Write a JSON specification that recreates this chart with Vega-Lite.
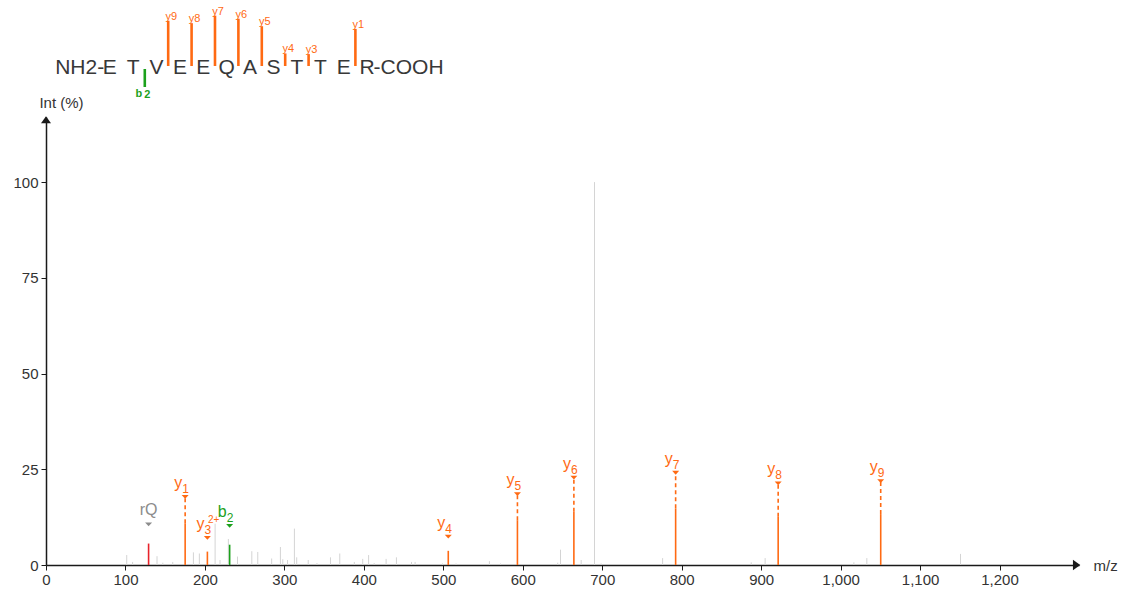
{
  "$schema": "https://vega.github.io/schema/vega-lite/v6.json",
  "background": "white",
  "padding": {"left": 12, "top": 0, "right": 5, "bottom": 5},
  "bounds": "flush",
  "spacing": 17,
  "config": {"view": {"stroke": null}, "font": "Liberation Sans"},
  "datasets": {
    "ions": [
      {"ion": "rQ", "type": "rQ", "letter": "rQ", "num": "", "charge": "", "mz": 129.1, "int": 5.6, "lab": 10.6},
      {"ion": "y1", "type": "y", "letter": "y", "num": "1", "charge": "", "mz": 175.12, "int": 10.9, "lab": 17.8, "site": 11.5},
      {"ion": "y3", "type": "y", "letter": "y", "num": "3", "charge": "2+", "mz": 203.1, "int": 3.5, "lab": 7.1, "site": 9.5},
      {"ion": "b2", "type": "b", "letter": "b", "num": "2", "charge": "", "mz": 231.11, "int": 5.3, "lab": 10.2, "site": 2.5},
      {"ion": "y4", "type": "y", "letter": "y", "num": "4", "charge": "", "mz": 506.25, "int": 3.7, "lab": 7.4, "site": 8.5},
      {"ion": "y5", "type": "y", "letter": "y", "num": "5", "charge": "", "mz": 593.28, "int": 11.7, "lab": 18.5, "site": 7.5},
      {"ion": "y6", "type": "y", "letter": "y", "num": "6", "charge": "", "mz": 664.32, "int": 13.9, "lab": 22.8, "site": 6.5},
      {"ion": "y7", "type": "y", "letter": "y", "num": "7", "charge": "", "mz": 792.38, "int": 14.8, "lab": 24.1, "site": 5.5},
      {"ion": "y8", "type": "y", "letter": "y", "num": "8", "charge": "", "mz": 921.42, "int": 12.6, "lab": 21.3, "site": 4.5},
      {"ion": "y9", "type": "y", "letter": "y", "num": "9", "charge": "", "mz": 1050.46, "int": 13.3, "lab": 21.9, "site": 3.5}
    ],
    "noise": [
      {"mz": 101.6, "int": 2.6}, {"mz": 109, "int": 0.8}, {"mz": 139.7, "int": 2.3}, {"mz": 147, "int": 0.6},
      {"mz": 159.5, "int": 0.8}, {"mz": 185.5, "int": 3.3}, {"mz": 193, "int": 3.0}, {"mz": 212.8, "int": 10.8},
      {"mz": 219, "int": 1.3}, {"mz": 229.5, "int": 6.8}, {"mz": 241, "int": 2.2}, {"mz": 259, "int": 3.6},
      {"mz": 266.5, "int": 3.4}, {"mz": 284, "int": 1.7}, {"mz": 295, "int": 4.7}, {"mz": 298, "int": 1.5},
      {"mz": 304, "int": 1.3}, {"mz": 312.6, "int": 9.5}, {"mz": 315.5, "int": 2.0}, {"mz": 330, "int": 1.3},
      {"mz": 341, "int": 0.5}, {"mz": 358, "int": 2.0}, {"mz": 369.7, "int": 3.0}, {"mz": 388, "int": 0.8},
      {"mz": 398.6, "int": 1.6}, {"mz": 406, "int": 2.6}, {"mz": 413, "int": 0.5}, {"mz": 428, "int": 1.6},
      {"mz": 441, "int": 2.0}, {"mz": 460, "int": 0.8}, {"mz": 464.5, "int": 0.8}, {"mz": 499, "int": 0.4},
      {"mz": 516, "int": 0.4}, {"mz": 558, "int": 1.0}, {"mz": 572, "int": 0.4}, {"mz": 644, "int": 0.6},
      {"mz": 647.5, "int": 4.0}, {"mz": 673.5, "int": 1.3}, {"mz": 690.3, "int": 100}, {"mz": 698.6, "int": 0.4},
      {"mz": 776, "int": 1.8}, {"mz": 887.5, "int": 0.7}, {"mz": 905, "int": 1.8}, {"mz": 1016.7, "int": 0.7},
      {"mz": 1033, "int": 1.8}, {"mz": 1150.9, "int": 2.9}
    ],
    "residues": [
      {"pos": 1, "aa": "E"}, {"pos": 2, "aa": "T"}, {"pos": 3, "aa": "V"}, {"pos": 4, "aa": "E"},
      {"pos": 5, "aa": "E"}, {"pos": 6, "aa": "Q"}, {"pos": 7, "aa": "A"}, {"pos": 8, "aa": "S"},
      {"pos": 9, "aa": "T"}, {"pos": 10, "aa": "T"}, {"pos": 11, "aa": "E"}, {"pos": 12, "aa": "R"}
    ],
    "termini": [
      {"pos": 1, "term": "NH2-", "end": "N"},
      {"pos": 12, "term": "-COOH", "end": "C"}
    ]
  },
  "vconcat": [
    {
      "width": 420,
      "height": 100,
      "resolve": {"scale": {"y": "independent"}},
      "layer": [
        {
          "layer": [
            {
              "data": {"name": "residues"},
              "mark": {"type": "text", "font": "Liberation Sans", "fontSize": 21, "baseline": "alphabetic", "align": "center", "color": "#383838"},
              "encoding": {
                "x": {"field": "pos", "type": "quantitative", "scale": {"domain": [-1.722, 16.227], "nice": false, "zero": false}, "axis": null},
                "y": {"datum": -2.3, "type": "quantitative", "scale": {"domain": [-10, 19.41], "nice": false, "zero": false}, "axis": null},
                "text": {"field": "aa"}
              }
            },
            {
              "data": {"name": "termini"},
              "transform": [{"filter": "datum.end === 'N'"}],
              "mark": {"type": "text", "font": "Liberation Sans", "fontSize": 21, "baseline": "alphabetic", "align": "right", "dx": -5.5, "color": "#383838"},
              "encoding": {
                "x": {"field": "pos", "type": "quantitative"},
                "y": {"datum": -2.3, "type": "quantitative"},
                "text": {"field": "term"}
              }
            },
            {
              "data": {"name": "termini"},
              "transform": [{"filter": "datum.end === 'C'"}],
              "mark": {"type": "text", "font": "Liberation Sans", "fontSize": 21, "baseline": "alphabetic", "align": "left", "dx": 6.5, "color": "#383838"},
              "encoding": {
                "x": {"field": "pos", "type": "quantitative"},
                "y": {"datum": -2.3, "type": "quantitative"},
                "text": {"field": "term"}
              }
            },
            {
              "data": {"name": "ions"},
              "transform": [{"filter": "datum.type === 'y'"}],
              "mark": {"type": "rule", "color": "#ff6a13", "strokeWidth": 2.6},
              "encoding": {
                "x": {"field": "site", "type": "quantitative"},
                "y": {"field": "int", "type": "quantitative"},
                "y2": {"datum": 0}
              }
            },
            {
              "data": {"name": "ions"},
              "transform": [{"filter": "datum.type === 'y'"}],
              "mark": {"type": "text", "color": "#ff6a13", "fontSize": 11, "align": "center", "baseline": "bottom", "dx": 3, "dy": 1},
              "encoding": {
                "x": {"field": "site", "type": "quantitative"},
                "y": {"field": "int", "type": "quantitative"},
                "text": {"field": "ion"}
              }
            }
          ]
        },
        {
          "layer": [
            {
              "data": {"name": "ions"},
              "transform": [{"filter": "datum.type === 'b'"}],
              "mark": {"type": "rule", "color": "#1ca11c", "strokeWidth": 2.6},
              "encoding": {
                "x": {"field": "site", "type": "quantitative"},
                "y": {"field": "int", "type": "quantitative", "scale": {"domain": [-20.29, 9.12], "nice": false, "zero": false, "reverse": true}, "axis": null},
                "y2": {"datum": 0}
              }
            },
            {
              "data": {"name": "ions"},
              "transform": [{"filter": "datum.type === 'b'"}],
              "mark": {"type": "text", "color": "#1ca11c", "fontSize": 11, "fontWeight": "bold", "align": "right", "baseline": "top", "dx": -2.5, "dy": 1},
              "encoding": {
                "x": {"field": "site", "type": "quantitative"},
                "y": {"field": "int", "type": "quantitative"},
                "text": {"field": "letter"}
              }
            },
            {
              "data": {"name": "ions"},
              "transform": [{"filter": "datum.type === 'b'"}],
              "mark": {"type": "text", "color": "#1ca11c", "fontSize": 11, "fontWeight": "bold", "align": "left", "baseline": "top", "dx": -0.5, "dy": 2},
              "encoding": {
                "x": {"field": "site", "type": "quantitative"},
                "y": {"field": "int", "type": "quantitative"},
                "text": {"field": "num"}
              }
            }
          ]
        }
      ]
    },
    {
      "width": 1033,
      "height": 448,
      "layer": [
        {
          "data": {"name": "noise"},
          "mark": {"type": "rule", "color": "#d4d4d4", "strokeWidth": 1},
          "encoding": {
            "x": {"field": "mz", "type": "quantitative", "scale": {"domain": [0, 1300], "nice": false, "zero": true},
              "axis": {"values": [0, 100, 200, 300, 400, 500, 600, 700, 800, 900, 1000, 1100, 1200], "format": ",d", "grid": false, "labelFlush": false,
                "domainColor": "#1a1a1a", "domainWidth": 1.5, "tickColor": "#1a1a1a", "tickSize": 5, "labelFontSize": 15, "labelColor": "#333333", "labelPadding": 2, "labelFont": "Liberation Sans",
                "title": "m/z", "titleFont": "Liberation Sans", "titleFontSize": 15, "titleFontWeight": "normal", "titleColor": "#333333", "titleAlign": "left", "titleBaseline": "middle", "titleAnchor": "start", "titleX": 1047, "titleY": 0}},
            "y": {"field": "int", "type": "quantitative", "scale": {"domain": [0, 117], "nice": false},
              "axis": {"values": [0, 25, 50, 75, 100], "grid": false, "labelFlush": false, "domainColor": "#1a1a1a", "domainWidth": 1.5, "tickColor": "#1a1a1a", "tickSize": 5, "labelFontSize": 15, "labelColor": "#333333", "labelPadding": 3, "labelFont": "Liberation Sans",
                "title": "Int (%)", "titleFont": "Liberation Sans", "titleFontSize": 15, "titleFontWeight": "normal", "titleColor": "#333333", "titleAngle": 0, "titleAlign": "center", "titleBaseline": "alphabetic", "titleX": 15, "titleY": -10}},
            "y2": {"datum": 0}
          }
        },
        {
          "data": {"name": "ions"},
          "mark": {"type": "rule", "strokeWidth": 1.6},
          "encoding": {
            "x": {"field": "mz", "type": "quantitative"},
            "y": {"field": "int", "type": "quantitative"},
            "y2": {"datum": 0},
            "color": {"field": "type", "type": "nominal", "scale": {"domain": ["y", "b", "rQ"], "range": ["#ff6a13", "#1ca11c", "#e8232a"]}, "legend": null}
          }
        },
        {
          "data": {"name": "ions"},
          "transform": [{"filter": "datum.lab - datum.int > 5"}],
          "mark": {"type": "rule", "strokeWidth": 1.6, "strokeDash": [4, 3]},
          "encoding": {
            "x": {"field": "mz", "type": "quantitative"},
            "y": {"field": "int", "type": "quantitative"},
            "y2": {"field": "lab"},
            "color": {"field": "type", "type": "nominal", "legend": null}
          }
        },
        {
          "data": {"name": "ions"},
          "mark": {"type": "point", "shape": "M-1,-0.55L1,-0.55L0,0.55Z", "size": 49, "filled": true, "opacity": 1},
          "encoding": {
            "x": {"field": "mz", "type": "quantitative"},
            "y": {"field": "lab", "type": "quantitative"},
            "color": {"condition": {"test": "datum.type === 'rQ'", "value": "#8c8c8c"}, "field": "type", "type": "nominal", "legend": null}
          }
        },
        {
          "data": {"name": "ions"},
          "transform": [{"filter": "datum.type !== 'rQ'"}],
          "mark": {"type": "text", "fontSize": 16, "align": "right", "baseline": "alphabetic", "dx": -3, "dy": -9},
          "encoding": {
            "x": {"field": "mz", "type": "quantitative"},
            "y": {"field": "lab", "type": "quantitative"},
            "text": {"field": "letter"},
            "color": {"field": "type", "type": "nominal", "legend": null}
          }
        },
        {
          "data": {"name": "ions"},
          "transform": [{"filter": "datum.type !== 'rQ'"}],
          "mark": {"type": "text", "fontSize": 12, "align": "left", "baseline": "alphabetic", "dx": -3, "dy": -4},
          "encoding": {
            "x": {"field": "mz", "type": "quantitative"},
            "y": {"field": "lab", "type": "quantitative"},
            "text": {"field": "num"},
            "color": {"field": "type", "type": "nominal", "legend": null}
          }
        },
        {
          "data": {"name": "ions"},
          "transform": [{"filter": "datum.charge !== ''"}],
          "mark": {"type": "text", "fontSize": 10, "align": "left", "baseline": "alphabetic", "dx": 0.5, "dy": -15},
          "encoding": {
            "x": {"field": "mz", "type": "quantitative"},
            "y": {"field": "lab", "type": "quantitative"},
            "text": {"field": "charge"},
            "color": {"field": "type", "type": "nominal", "legend": null}
          }
        },
        {
          "data": {"name": "ions"},
          "transform": [{"filter": "datum.type === 'rQ'"}],
          "mark": {"type": "text", "fontSize": 16, "align": "center", "baseline": "alphabetic", "dy": -9, "color": "#8c8c8c"},
          "encoding": {
            "x": {"field": "mz", "type": "quantitative"},
            "y": {"field": "lab", "type": "quantitative"},
            "text": {"field": "letter"}
          }
        },
        {
          "data": {"values": [{"axis": "y"}]},
          "mark": {"type": "point", "shape": "M-1,0.7L0,-0.7L1,0.7Z", "size": 100, "filled": true, "opacity": 1, "color": "#1a1a1a"},
          "encoding": {
            "x": {"datum": 0, "type": "quantitative"},
            "y": {"datum": 116.3, "type": "quantitative"}
          }
        },
        {
          "data": {"values": [{"axis": "x"}]},
          "mark": {"type": "point", "shape": "M-0.7,-1L0.7,0L-0.7,1Z", "size": 110, "filled": true, "opacity": 1, "color": "#1a1a1a"},
          "encoding": {
            "x": {"datum": 1297, "type": "quantitative"},
            "y": {"datum": 0, "type": "quantitative"}
          }
        }
      ]
    }
  ]
}
